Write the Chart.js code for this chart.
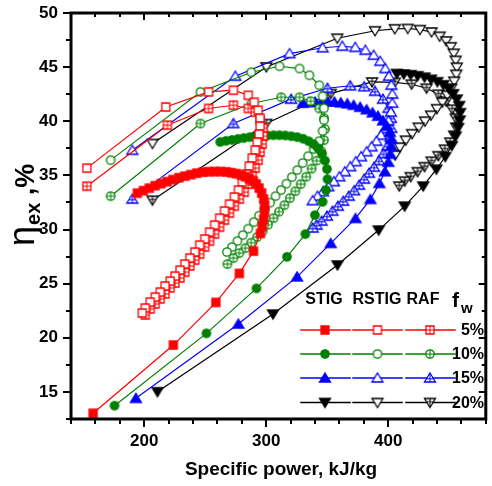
<!DOCTYPE html>
<html><head><meta charset="utf-8">
<script src="https://cdn.jsdelivr.net/npm/chart.js@4.4.1/dist/chart.umd.min.js"></script>
<style>html,body{margin:0;padding:0;background:#fff}canvas{display:block}</style>
</head><body>
<canvas id="c" width="492" height="486"></canvas>
<script>
// ---------- data (x: specific power kJ/kg, y: exergy efficiency %) ----------
const xTicks = [200, 300, 400];
const yTicks = [15, 20, 25, 30, 35, 40, 45, 50];
const cycles = ['STIG', 'RSTIG', 'RAF'];
const fwLabels = ['5%', '10%', '15%', '20%'];

const stig5 = [[158.1,13.03],[223.9,19.33],[258.8,23.27],[278.0,25.95],[289.6,28.00],[295.3,29.64],[296.7,30.31],[297.9,30.96],[298.7,31.61],[298.7,32.25],[297.9,32.81],[296.3,33.37],[294.2,33.83],[291.8,34.20],[289.4,34.47],[286.1,34.70],[282.9,34.88],[279.6,35.02],[275.6,35.16],[271.5,35.25],[267.4,35.32],[262.6,35.36],[257.7,35.36],[252.8,35.34],[248.0,35.30],[243.1,35.21],[238.2,35.07],[233.3,34.93],[228.5,34.79],[223.6,34.61],[218.7,34.42],[213.9,34.24],[209.0,34.05],[204.1,33.82],[199.3,33.59],[194.4,33.36]];
const rstig5 = [[153.0,35.67],[217.7,41.32],[252.8,42.71],[273.1,42.87],[285.3,42.40],[290.2,41.76],[293.4,41.02],[295.0,40.28],[295.0,39.55],[294.2,38.81],[292.6,38.07],[291.0,37.34],[288.5,36.60],[286.1,35.86],[283.7,35.12],[280.4,34.38],[277.2,33.64],[273.9,33.00],[269.9,32.35],[265.8,31.71],[261.8,31.05],[257.7,30.41],[253.6,29.76],[249.6,29.12],[245.5,28.56],[241.5,27.92],[237.4,27.36],[233.3,26.81],[229.3,26.25],[225.2,25.70],[221.2,25.24],[217.1,24.78],[213.1,24.22],[209.0,23.76],[204.9,23.30],[200.9,22.75],[198.4,22.29]];
const raf5 = [[153.0,34.00],[219.0,39.64],[252.8,41.18],[273.1,41.48],[285.3,41.18],[291.0,40.84],[295.0,40.10],[297.5,39.36],[297.5,38.62],[296.7,37.89],[295.0,37.15],[293.4,36.41],[291.0,35.67],[288.5,34.93],[285.3,34.19],[282.0,33.45],[278.0,32.81],[273.9,32.16],[269.9,31.52],[265.8,30.87],[261.8,30.22],[257.7,29.58],[253.6,28.93],[249.6,28.38],[245.5,27.73],[241.5,27.18],[237.4,26.63],[233.3,26.07],[229.3,25.52],[225.2,25.06],[221.2,24.60],[217.1,24.05],[213.1,23.59],[209.0,23.13],[204.9,22.67],[200.9,22.11]];

const stig10 = [[175.7,13.73],[251.0,20.41],[292.0,24.56],[317.0,27.48],[332.1,29.58],[339.9,31.33],[346.2,32.56],[349.0,33.64],[350.2,34.65],[349.8,35.58],[348.2,36.36],[345.8,37.01],[342.5,37.51],[338.9,37.88],[334.8,38.16],[330.3,38.39],[325.5,38.53],[320.6,38.62],[315.7,38.69],[310.9,38.71],[306.0,38.71],[301.1,38.69],[296.3,38.66],[291.4,38.60],[286.5,38.53],[281.6,38.45],[276.8,38.37],[271.9,38.28],[267.0,38.19],[262.3,38.09]];
const rstig10 = [[172.5,36.41],[246.1,42.71],[287.7,44.53],[311.0,45.08],[327.3,44.87],[335.4,44.25],[343.5,43.33],[346.2,42.31],[347.4,41.20],[347.4,40.10],[346.2,39.10],[343.3,38.16],[338.9,37.43],[334.4,36.78],[329.9,36.14],[325.5,35.49],[321.0,34.84],[316.5,34.24],[312.1,33.64],[307.6,33.08],[303.2,32.48],[298.7,31.88],[294.2,31.28],[289.8,30.68],[285.3,30.08],[280.8,29.48],[276.4,28.93],[271.9,28.38],[267.8,27.92]];
const raf10 = [[172.5,33.08],[246.1,39.79],[288.0,41.64],[312.3,42.22],[327.3,42.22],[336.4,41.85],[343.5,41.18],[347.4,40.28],[348.2,39.27],[347.4,38.25],[345.0,37.24],[341.3,36.36],[337.2,35.62],[332.8,34.88],[328.3,34.19],[323.9,33.54],[319.4,32.90],[314.9,32.25],[310.5,31.65],[306.0,31.05],[301.5,30.45],[297.1,29.85],[292.6,29.30],[287.7,28.79],[282.9,28.28],[278.0,27.82],[273.1,27.36],[268.2,26.81]];

const stig15 = [[193.2,14.41],[277.2,21.27],[325.3,25.63],[352.9,28.72],[373.2,31.03],[385.4,32.78],[392.8,34.26],[397.3,35.34],[400.1,36.22],[401.8,36.96],[402.6,37.70],[402.6,38.34],[401.4,38.99],[398.9,39.54],[395.7,40.05],[391.6,40.47],[387.2,40.79],[382.3,41.07],[377.0,41.30],[371.7,41.48],[366.5,41.62],[361.2,41.71],[355.9,41.78],[350.6,41.80],[345.4,41.80],[340.1,41.78],[334.8,41.73],[330.0,41.67]];
const rstig15 = [[190.3,37.32],[274.7,44.16],[319.1,46.25],[346.2,46.79],[362.4,46.93],[373.0,46.83],[381.3,46.56],[388.1,46.10],[393.5,45.54],[397.6,44.87],[400.6,44.16],[402.6,43.33],[403.4,42.51],[403.4,41.67],[402.2,40.84],[400.2,40.05],[397.3,39.31],[394.1,38.71],[390.4,38.16],[386.4,37.65],[382.3,37.19],[377.8,36.73],[373.4,36.27],[368.9,35.81],[364.4,35.34],[360.0,34.88],[355.5,34.42],[351.0,33.96],[346.6,33.50],[342.1,33.08],[338.1,32.67]];
const raf15 = [[190.3,32.81],[273.1,39.79],[320.4,42.04],[350.2,43.05],[368.9,43.28],[380.3,43.19],[389.2,42.77],[395.7,42.04],[400.2,41.20],[402.2,40.28],[402.6,39.36],[401.8,38.53],[399.3,37.70],[396.1,37.01],[392.4,36.36],[388.4,35.76],[384.3,35.21],[380.3,34.66],[376.2,34.10],[372.1,33.59],[367.7,33.08],[363.2,32.62],[358.8,32.16],[354.3,31.70],[349.8,31.24],[345.4,30.78],[341.3,30.41],[338.1,30.14]];

const stig20 = [[210.9,15.02],[305.6,22.19],[358.4,26.72],[392.2,29.95],[413.5,32.16],[428.7,34.01],[439.5,35.57],[446.8,36.73],[452.1,37.74],[455.3,38.62],[457.4,39.41],[458.6,40.10],[459.0,40.79],[458.2,41.44],[456.2,42.04],[453.3,42.54],[449.7,43.00],[445.2,43.37],[440.3,43.65],[435.1,43.88],[429.8,44.07],[424.1,44.20],[418.4,44.30],[412.7,44.36],[407.1,44.41]];
const rstig20 = [[206.8,37.95],[300.1,45.02],[358.3,47.67],[389.2,48.36],[405.4,48.54],[416.0,48.57],[426.0,48.47],[435.5,48.25],[442.2,47.85],[447.6,47.42],[451.3,46.88],[453.7,46.28],[455.3,45.63],[456.2,44.99],[455.8,44.34],[454.1,43.70],[451.7,43.05],[448.4,42.41],[444.4,41.76],[439.9,41.16],[435.1,40.56],[430.2,40.01],[424.9,39.45],[419.6,38.85],[414.4,38.25],[409.5,37.61],[405.7,36.87]];
const raf20 = [[206.8,32.71],[300.1,39.79],[352.9,42.56],[386.8,43.63],[405.4,43.60],[419.2,43.42],[431.4,43.05],[441.1,42.50],[447.6,41.85],[452.5,41.11],[455.3,40.28],[455.7,39.45],[454.1,38.71],[450.9,38.07],[446.4,37.42],[441.1,36.82],[435.5,36.31],[429.8,35.81],[424.1,35.34],[418.4,34.88],[413.5,34.47],[409.1,34.01]];

// ---------- styles ----------
const colors = ['#ff0000', '#008000', '#0000ff', '#000000'];
const shapes = ['rect', 'circle', 'triUp', 'triDown'];
const modes = ['fill', 'open', 'cross'];
const seriesData = [
  [stig5, rstig5, raf5],
  [stig10, rstig10, raf10],
  [stig15, rstig15, raf15],
  [stig20, rstig20, raf20]
];

function makeMarker(shape, color, mode) {
  const S = 16, c = S / 2;
  const cv = document.createElement('canvas');
  cv.width = S; cv.height = S;
  const g = cv.getContext('2d');
  g.lineWidth = 1.3;
  g.strokeStyle = color;
  g.fillStyle = mode === 'fill' ? color : '#ffffff';
  g.beginPath();
  let cross = [];
  if (shape === 'rect') {
    const h = 4;
    g.rect(c - h, c - h, 2 * h, 2 * h);
    cross = [[c, c - h, c, c + h], [c - h, c, c + h, c]];
  } else if (shape === 'circle') {
    const r = 4.2;
    g.arc(c, c, r, 0, Math.PI * 2);
    cross = [[c, c - r, c, c + r], [c - r, c, c + r, c]];
  } else if (shape === 'triUp') {
    g.moveTo(c, c - 5); g.lineTo(c + 5.5, c + 4); g.lineTo(c - 5.5, c + 4); g.closePath();
    cross = [[c, c - 5, c, c + 4], [c - 3, c + 0.8, c + 3, c + 0.8]];
  } else {
    g.moveTo(c, c + 5); g.lineTo(c + 5.5, c - 4); g.lineTo(c - 5.5, c - 4); g.closePath();
    cross = [[c, c + 5, c, c - 4], [c - 3, c - 0.8, c + 3, c - 0.8]];
  }
  g.fill(); g.stroke();
  if (mode === 'cross') {
    g.lineWidth = 1;
    cross.forEach(l => { g.beginPath(); g.moveTo(l[0], l[1]); g.lineTo(l[2], l[3]); g.stroke(); });
  }
  return cv;
}

const markers = colors.map((col, i) => modes.map(m => makeMarker(shapes[i], col, m)));

const datasets = [];
seriesData.forEach((row, i) => {
  row.forEach((pts, j) => {
    datasets.push({
      label: cycles[j] + ' ' + fwLabels[i],
      data: pts.map(p => ({ x: p[0], y: p[1] })),
      showLine: true,
      borderColor: colors[i],
      backgroundColor: colors[i],
      borderWidth: 1.2,
      pointStyle: markers[i][j],
      pointRadius: 5,
      pointHoverRadius: 5,
      tension: 0,
      clip: 8
    });
  });
});

const FONT = '"Liberation Sans", Arial, sans-serif';

const decor = {
  id: 'decor',
  afterDraw(chart) {
    const ctx = chart.ctx, ca = chart.chartArea;
    const xs = chart.scales.x, ys = chart.scales.y;
    ctx.save();
    ctx.strokeStyle = '#000';
    // ticks
    ctx.lineWidth = 2;
    for (let v = xs.min; v <= xs.max + 1e-6; v += 20) {
      const p = Math.round(xs.getPixelForValue(v));
      const major = Math.abs(v % 100) < 1e-6;
      ctx.beginPath();
      ctx.moveTo(p, ca.bottom); ctx.lineTo(p, ca.bottom + (major ? 8 : 5));
      ctx.moveTo(p, ca.top); ctx.lineTo(p, ca.top + (major ? 7 : 4));
      ctx.stroke();
    }
    for (let v = ys.min; v <= ys.max + 1e-6; v += 2.5) {
      const p = Math.round(ys.getPixelForValue(v));
      const major = Math.abs(v % 5) < 1e-6;
      ctx.beginPath();
      ctx.moveTo(ca.left - (major ? 8 : 5), p); ctx.lineTo(ca.left, p);
      ctx.moveTo(ca.right - (major ? 7 : 4), p); ctx.lineTo(ca.right, p);
      ctx.stroke();
    }
    // frame
    ctx.lineWidth = 3;
    ctx.lineCap = 'square';
    ctx.beginPath();
    ctx.rect(ca.left, ca.top, ca.right - ca.left, ca.bottom - ca.top);
    ctx.stroke();

    // axis titles
    ctx.fillStyle = '#000';
    ctx.textAlign = 'center';
    ctx.textBaseline = 'middle';
    ctx.font = 'bold 19px ' + FONT;
    ctx.fillText('Specific power, kJ/kg', 281, 470);

    ctx.save();
    ctx.translate(34, 246);
    ctx.rotate(-Math.PI / 2);
    ctx.textAlign = 'left';
    ctx.textBaseline = 'alphabetic';
    ctx.font = '36px ' + FONT;
    ctx.fillText('η', 0, 0);
    let w = ctx.measureText('η').width;
    ctx.font = 'bold 20px ' + FONT;
    ctx.fillText('ex', w + 1, 6);
    w += 1 + ctx.measureText('ex').width;
    ctx.font = 'bold 27px ' + FONT;
    ctx.fillText(' ,%', w, 0);
    ctx.restore();

    // legend table
    ctx.font = 'bold 16px ' + FONT;
    ctx.textAlign = 'center';
    ctx.textBaseline = 'middle';
    const colX = [325, 377.5, 430];
    const segs = [[301, 350], [353, 402], [406, 455]];
    const headX = [324, 377, 423];
    cycles.forEach((t, j) => ctx.fillText(t, headX[j], 300));
    ctx.font = 'bold 21px ' + FONT;
    ctx.textAlign = 'left';
    ctx.fillText('f', 452, 301);
    ctx.font = 'bold 15px ' + FONT;
    ctx.fillText('w', 461, 309);
    const rowY = [330, 354, 378, 402.5];
    fwLabels.forEach((lab, i) => {
      const y = rowY[i];
      segs.forEach((s, j) => {
        ctx.strokeStyle = colors[i];
        ctx.lineWidth = 1.5;
        ctx.beginPath(); ctx.moveTo(s[0], y); ctx.lineTo(s[1], y); ctx.stroke();
        const m = markers[i][j];
        ctx.drawImage(m, colX[j] - m.width / 2, y - m.height / 2);
      });
      ctx.fillStyle = '#000';
      ctx.font = 'bold 16px ' + FONT;
      ctx.textAlign = 'right';
      ctx.fillText(lab, 484, y + 1);
    });
    ctx.restore();
  }
};

new Chart(document.getElementById('c'), {
  type: 'scatter',
  data: { datasets },
  options: {
    responsive: false,
    animation: false,
    events: [],
    layout: { padding: { top: 13, right: 2, left: 0, bottom: 0 } },
    plugins: { legend: { display: false }, tooltip: { enabled: false } },
    scales: {
      x: {
        type: 'linear', min: 140, max: 480,
        grid: { display: false, drawTicks: false },
        border: { display: false },
        afterBuildTicks: s => { s.ticks = xTicks.map(v => ({ value: v })); },
        afterFit: s => { s.height = 67; s.paddingLeft = 0; s.paddingRight = 0; },
        ticks: { padding: 12, color: '#000', font: { family: FONT, size: 17, weight: 'bold' } }
      },
      y: {
        type: 'linear', min: 12.5, max: 50,
        grid: { display: false, drawTicks: false },
        border: { display: false },
        afterBuildTicks: s => { s.ticks = yTicks.map(v => ({ value: v })); },
        afterFit: s => { s.width = 71; s.paddingTop = 0; s.paddingBottom = 0; },
        ticks: { padding: 13, color: '#000', font: { family: FONT, size: 17, weight: 'bold' } }
      }
    }
  },
  plugins: [decor]
});
</script>
</body></html>
